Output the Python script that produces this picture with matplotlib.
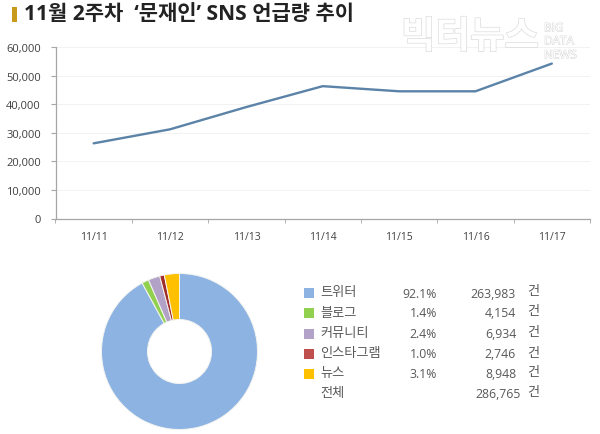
import matplotlib
matplotlib.use("Agg")
import matplotlib.pyplot as plt
import matplotlib.patheffects as pe
from matplotlib.patches import Rectangle

plt.rcParams['font.family'] = ['Open Sans', 'Noto Sans CJK KR', 'DejaVu Sans']

W, H = 600, 435

# data
dates = ['11/11', '11/12', '11/13', '11/14', '11/15', '11/16', '11/17']
mentions = [26300, 31200, 39000, 46300, 44500, 44500, 54200]
yticks = [0, 10000, 20000, 30000, 40000, 50000, 60000]

channels = ['트위터', '블로그', '커뮤니티', '인스타그램', '뉴스']
shares = ['92.1%', '1.4%', '2.4%', '1.0%', '3.1%']
counts = [263983, 4154, 6934, 2746, 8948]
total = 286765
pie_colors = ['#8DB3E2', '#92D050', '#B3A2C7', '#A02B2B', '#FFC000']
legend_colors = ['#8DB3E2', '#92D050', '#B3A2C7', '#C0504D', '#FFC000']


def fx(x):
    return x / W


def fy(y):
    return 1 - y / H


def px_axes(fig, left, top, right, bottom):
    return fig.add_axes([fx(left), fy(bottom), (right - left) / W, (bottom - top) / H])


fig = plt.figure(figsize=(6, 4.35), dpi=100, facecolor='white')

# title
fig.add_artist(Rectangle((fx(11.5), fy(23)), 5.5 / W, 15 / H, transform=fig.transFigure,
                         color='#C79A1C', lw=0))
fig.text(fx(24), fy(15), "11월 2주차  ‘문재인’ SNS 언급량 추이", fontsize=15.1,
         fontweight='bold', color='#222222', va='center', ha='left')

# watermark
wm = [pe.withStroke(linewidth=0.9, foreground='#D8D8D8')]
fig.text(fx(401), fy(39), "빅터뉴스", fontsize=27, fontweight='bold', color='white',
         va='center', ha='left', path_effects=wm, zorder=5)
for label, y in zip(['BIG', 'DATA', 'NEWS'], [29, 42, 56]):
    fig.text(fx(544), fy(y), label, fontsize=8.5, color='white', va='center', ha='left',
             path_effects=[pe.withStroke(linewidth=0.6, foreground='#D0D0D0')], zorder=5)

# line chart
ax = px_axes(fig, 55.5, 48, 590, 219.5)
ax.plot(range(len(dates)), mentions, color='#5B83A8', lw=1.7, solid_capstyle='round')
ax.set_xlim(-0.5, len(dates) - 0.5)
ax.set_ylim(0, 60000)
ax.set_yticks(yticks)
ax.set_yticklabels([f'{v:,}' for v in yticks], fontsize=8, color='#404040')
ax.set_xticks(range(len(dates)))
ax.set_xticklabels(dates, fontsize=7.5, color='#404040')
ax.set_xticks([i - 0.5 for i in range(len(dates) + 1)], minor=True)
ax.tick_params(axis='x', which='major', length=0, pad=9)
ax.tick_params(axis='x', which='minor', length=3, color='#A6A6A6', direction='out')
ax.tick_params(axis='y', length=3.4, color='#A6A6A6', pad=7)
ax.grid(axis='y', color='#F2F2F2', lw=0.7)
ax.set_axisbelow(True)
for side in ['top', 'right']:
    ax.spines[side].set_visible(False)
for side in ['left', 'bottom']:
    ax.spines[side].set_color('#A6A6A6')
    ax.spines[side].set_linewidth(0.9)

# donut
cx, cy, r = 179.5, 352.5, 78
ax2 = px_axes(fig, cx - r, cy - r, cx + r, cy + r)
ax2.pie(counts, colors=pie_colors, startangle=90, counterclock=False, radius=1,
        wedgeprops=dict(width=1 - 32 / 78, edgecolor='#F4F4F0', linewidth=0.7))
ax2.set_xlim(-1, 1)
ax2.set_ylim(-1, 1)

# table legend
row_y = [294, 314, 335, 355, 375]
txt = dict(color='#595959', va='center')
for name, share, n, col, y in zip(channels, shares, counts, legend_colors, row_y):
    fig.add_artist(Rectangle((fx(304), fy(y + 5)), 10 / W, 10 / H, transform=fig.transFigure,
                             color=col, lw=0))
    fig.text(fx(320), fy(y - 1), name, ha='left', fontsize=9.5, fontweight='medium', **txt)
    fig.text(fx(437), fy(y), share, ha='right', fontsize=8.8, **txt)
    fig.text(fx(516), fy(y), f'{n:,}', ha='right', fontsize=8.8, **txt)
    fig.text(fx(533), fy(y - 2), '건', ha='center', fontsize=9.5, **txt)
fig.text(fx(320), fy(394), '전체', ha='left', fontsize=9.5, fontweight='medium', **txt)
fig.text(fx(521), fy(395), f'{total:,}', ha='right', fontsize=8.8, **txt)
fig.text(fx(533), fy(393), '건', ha='center', fontsize=9.5, **txt)

fig.savefig('out.png', dpi=100, facecolor='white')
